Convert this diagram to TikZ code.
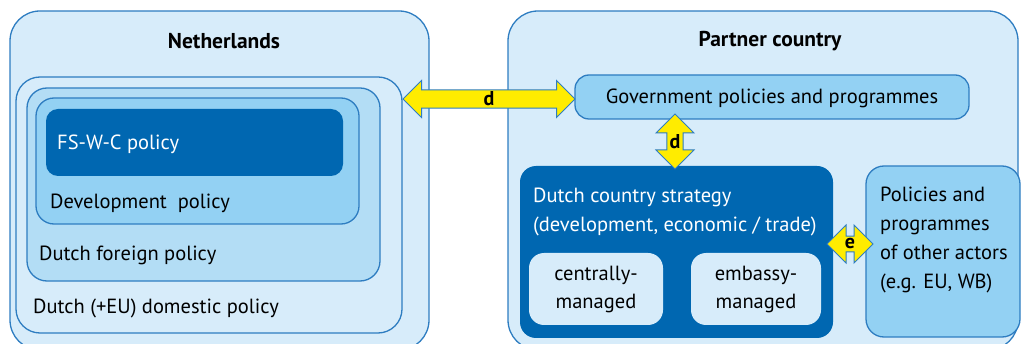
\documentclass[tikz,border=0pt]{standalone}
\usepackage{fontspec}
\setmainfont{PT Sans}
\usetikzlibrary{shapes.arrows,fit,calc}
\definecolor{bordblue}{HTML}{2E7DC1}
\definecolor{pale}{HTML}{D7ECFA}
\definecolor{mid}{HTML}{B3DDF5}
\definecolor{sky}{HTML}{93D1F3}
\definecolor{deep}{HTML}{0067B1}
\definecolor{yel}{HTML}{FFEC00}
\tikzset{
  box/.style={draw=bordblue, line width=1.3pt, inner sep=0pt},
  txt/.style={font=\fontsize{20.5}{28}\selectfont, inner sep=0pt, align=left},
  head/.style={font=\fontsize{21.5}{24}\selectfont\bfseries, inner sep=0pt},
  darr/.style={double arrow, draw=bordblue, fill=yel, line width=1pt, inner sep=0pt,
    double arrow head extend=8pt, font=\fontsize{20}{20}\selectfont\bfseries},
}
\begin{document}
\begin{tikzpicture}[x=1pt,y=-1pt]
\useasboundingbox (0,0) rectangle (1022,344);
\begin{scope}
\clip (0,0) rectangle (1022,344);
% outer boxes
\node[box, fill=pale, rounded corners=30pt, fit={(10,11) (429,350)}] (nl) {};
\node[box, fill=pale, rounded corners=30pt, fit={(508,11) (1018,350)}] (pc) {};
\end{scope}
% Netherlands nested
\node[box, fill=pale, rounded corners=24pt, fit={(16,77) (402,333)}] (dom) {};
\node[box, fill=mid, rounded corners=20pt, fit={(27,88) (380,281)}] (for) {};
\node[box, fill=sky, rounded corners=18pt, fit={(36,98) (359,224)}] (dev) {};
\node[fill=deep, rounded corners=12pt, inner sep=0pt, fit={(46,109) (343,176)}] (fs) {};
\node[head] (nlt) at (224,41) {Netherlands};
\node[txt, anchor=west, text=white] (fst) at (57,144) {FS-W-C policy};
\node[txt, anchor=west] (devt) at (50,203) {Development\ \ policy};
\node[txt, anchor=west] (fort) at (39,255) {Dutch foreign policy};
\node[txt, anchor=west] (domt) at (33,308) {Dutch (+EU) domestic policy};
% Partner country
\node[head] (pct) at (770,41) {Partner country};
\node[box, fill=sky, rounded corners=14pt, fit={(575,75) (969,119)}] (gov) {};
\node[txt] (govt) at (772,98) {Government policies and programmes};
\node[fill=deep, rounded corners=16pt, inner sep=0pt, fit={(520,166) (833,338)}] (dcs) {};
\node[txt, anchor=west, text=white] (dcs1) at (533,197) {Dutch country strategy};
\node[txt, anchor=west, text=white] (dcs2) at (533,226) {(development, economic / trade)};
\node[fill=pale, rounded corners=15pt, inner sep=0pt, fit={(529,253) (663,325)}] (cm) {};
\node[txt, align=center] (cmt) at (596,289) {centrally-\\managed};
\node[fill=pale, rounded corners=15pt, inner sep=0pt, fit={(691,253) (821,325)}] (em) {};
\node[txt, align=center] (emt) at (756,289) {embassy-\\managed};
\node[box, fill=sky, rounded corners=18pt, fit={(866,166) (1020,337)}] (oth) {};
\node[txt, anchor=west, font=\fontsize{20.5}{29}\selectfont] (otht) at (880,240) {Policies and\\programmes\\of other actors\\(e.g. EU, WB)};
% arrows
\coordinate (c1) at (489,99);
\node[darr, minimum height=172pt, minimum width=37pt] (d1) at (c1) {d};
\coordinate (c2) at (675,141.5);
\node[darr, shape border rotate=90, minimum height=55pt, minimum width=38pt] (d2) at (c2) {d};
\coordinate (c3) at (850,244);
\node[darr, minimum height=46pt, minimum width=38pt] (d3) at (c3) {e};
\end{tikzpicture}
\end{document}
